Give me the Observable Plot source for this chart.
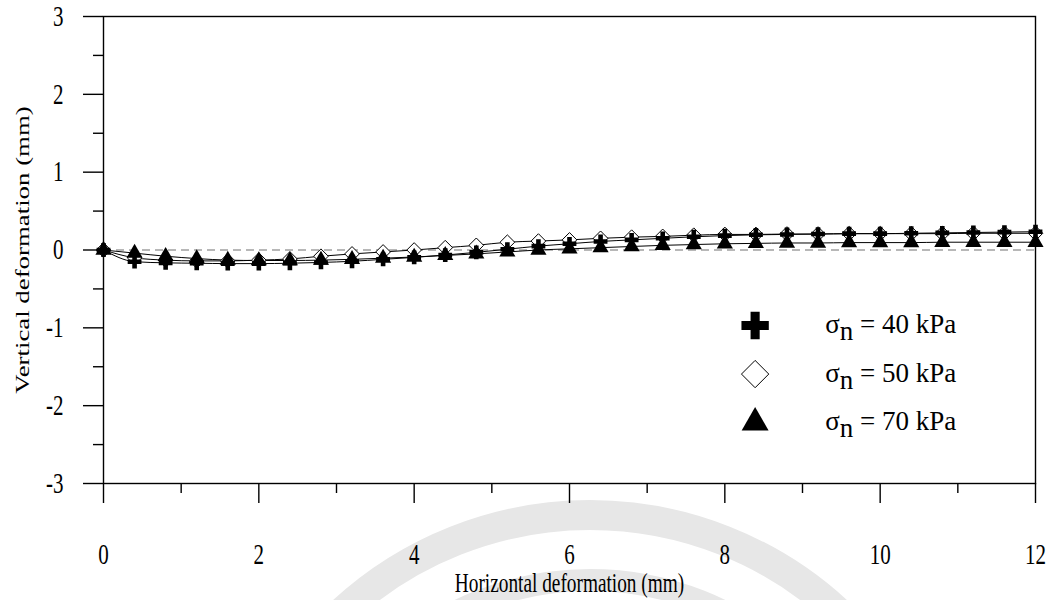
<!DOCTYPE html>
<html>
<head>
<meta charset="utf-8">
<script src="https://cdn.jsdelivr.net/npm/d3@7"></script>
<script src="https://cdn.jsdelivr.net/npm/@observablehq/plot@0.6"></script>
<style>
  html, body { margin: 0; padding: 0; background: white; }
  #chart { width: 1056px; height: 600px; }
</style>
</head>
<body>
<div id="chart"></div>
<script>
// ---- data ----
const horizontal = [0, 0.4, 0.8, 1.2, 1.6, 2.0, 2.4, 2.8, 3.2, 3.6, 4.0, 4.4, 4.8, 5.2, 5.6, 6.0,
  6.4, 6.8, 7.2, 7.6, 8.0, 8.4, 8.8, 9.2, 9.6, 10.0, 10.4, 10.8, 11.2, 11.6, 12.0];
const vert40 = [0, -0.15, -0.165, -0.17, -0.175, -0.175, -0.17, -0.16, -0.145, -0.12, -0.095, -0.065,
  -0.03, 0.01, 0.05, 0.08, 0.11, 0.13, 0.15, 0.17, 0.185, 0.195, 0.2, 0.205, 0.21, 0.21, 0.215, 0.22,
  0.225, 0.23, 0.235];
const vert50 = [0, -0.1, -0.13, -0.14, -0.14, -0.13, -0.115, -0.08, -0.05, -0.025, 0.0, 0.03, 0.06,
  0.1, 0.115, 0.13, 0.15, 0.165, 0.175, 0.19, 0.2, 0.2, 0.205, 0.205, 0.21, 0.21, 0.21, 0.21, 0.215,
  0.215, 0.215];
const vert70 = [0, -0.04, -0.08, -0.11, -0.13, -0.135, -0.135, -0.13, -0.12, -0.105, -0.09, -0.07,
  -0.05, -0.025, 0.0, 0.015, 0.03, 0.045, 0.06, 0.07, 0.08, 0.085, 0.09, 0.09, 0.095, 0.095, 0.095,
  0.1, 0.1, 0.1, 0.1];
const seriesNames = ["40", "50", "70"];
const xMajorTicks = [0, 2, 4, 6, 8, 10, 12];
const xMinorTicks = [1, 3, 5, 7, 9, 11];
const yMajorTicks = [-3, -2, -1, 0, 1, 2, 3];
const yMinorTicks = [-2.5, -1.5, -0.5, 0.5, 1.5, 2.5];
const xLabel = "Horizontal deformation (mm)";
const yLabel = "Vertical deformation (mm)";

// ---- tables built from the arrays ----
const mk = (arr) => horizontal.map((x, i) => ({ x, y: arr[i] }));
const d40 = mk(vert40), d50 = mk(vert50), d70 = mk(vert70);
const legendItems = [
  { name: seriesNames[0], symbol: "cross", fill: "black", stroke: "none", r: 11.5 },
  { name: seriesNames[1], symbol: "diamond2", fill: "white", stroke: "black", r: 12.3 },
  { name: seriesNames[2], symbol: "triangle", fill: "black", stroke: "none", r: 10 }
];
// legend placement (data units within the frame)
const legX = 8.39, legTextX = 9.3, legY0 = -0.97, legStep = 0.624;

const font = "Liberation Serif";
const STRETCH = 1.39; // the reference text is drawn tall and narrow

const plot = Plot.plot({
  width: 1056,
  height: 600,
  marginLeft: 103,
  marginRight: 21,
  marginTop: 16,
  marginBottom: 117,
  x: { domain: [0, 12] },
  y: { domain: [-3, 3] },
  style: { fontFamily: font, fontSize: "21px", color: "black", background: "transparent" },
  marks: [
    Plot.ruleY([0], { x1: 0, x2: 12, stroke: "#707070", strokeWidth: 1.2, strokeDasharray: "8,5" }),
    Plot.frame({ stroke: "black", strokeWidth: 1.4 }),
    Plot.axisX({ ticks: xMajorTicks, tickSize: 20, tickPadding: 40, tickFormat: d => String(d), label: null, strokeWidth: 1.4, fontSize: 21 }),
    Plot.axisX({ ticks: xMinorTicks, tickSize: 10, tickFormat: () => "", label: null, strokeWidth: 1.4 }),
    Plot.axisY({ ticks: yMajorTicks, tickSize: 20, tickPadding: 20, tickFormat: d => String(d), label: null, strokeWidth: 1.4, fontSize: 21 }),
    Plot.axisY({ ticks: yMinorTicks, tickSize: 10, tickFormat: () => "", label: null, strokeWidth: 1.4 }),
    Plot.text([xLabel], { frameAnchor: "bottom", lineAnchor: "middle", textAnchor: "middle", dy: 100, fontSize: 19.3 }),
    Plot.text([yLabel], { frameAnchor: "left", lineAnchor: "middle", textAnchor: "middle", dx: -81, dy: 0, rotate: -90, fontSize: 19.3 }),
    Plot.line(d50, { x: "x", y: "y", stroke: "black", strokeWidth: 1, curve: "monotone-x" }),
    Plot.line(d70, { x: "x", y: "y", stroke: "black", strokeWidth: 1, curve: "monotone-x" }),
    Plot.line(d40, { x: "x", y: "y", stroke: "black", strokeWidth: 1, curve: "monotone-x" }),
    Plot.dot(d50, { x: "x", y: "y", symbol: "diamond2", r: 6.6, fill: "white", stroke: "black", strokeWidth: 1 }),
    Plot.dot(d70, { x: "x", y: "y", symbol: "triangle", r: 6.0, fill: "black", stroke: "none" }),
    Plot.dot(d40, { x: "x", y: "y", symbol: "cross", r: 5.8, fill: "black", stroke: "none" }),
    // legend symbols
    ...legendItems.map((d, i) => Plot.dot([d], {
      x: () => legX, y: () => legY0 - i * legStep,
      symbol: d.symbol, r: d.r, fill: d.fill, stroke: d.stroke, strokeWidth: 1
    }))
  ]
});

const svg = d3.select(plot);
const xs = plot.scale("x"), ys = plot.scale("y");

// stretch axis/title text vertically (as in the reference)
svg.selectAll("text").each(function () {
  const el = d3.select(this);
  const tr = el.attr("transform") || "";
  const ax = parseFloat(el.attr("x")) || 0, ay = parseFloat(el.attr("y")) || 0;
  const s = tr.includes("rotate") ? `${STRETCH},1` : `1,${STRETCH}`;
  el.attr("transform", `${tr} translate(${ax},${ay}) scale(${s}) translate(${-ax},${-ay})`);
});

// faint watermark rings behind the chart
const wm = svg.insert("g", ":first-child").attr("fill", "none").attr("stroke", "#e7e7e7");
wm.append("circle").attr("cx", 590).attr("cy", 880).attr("r", 365).attr("stroke-width", 30);
wm.append("circle").attr("cx", 590).attr("cy", 880).attr("r", 300).attr("stroke-width", 22);
svg.insert("rect", ":first-child").attr("width", 1056).attr("height", 600).attr("fill", "white");

// legend labels with subscript
legendItems.forEach((d, i) => {
  const tx = xs.apply(legTextX), ty = ys.apply(legY0 - i * legStep) + 8;
  const t = svg.append("text")
    .attr("x", tx)
    .attr("y", ty)
    .attr("text-anchor", "start")
    .attr("font-family", font)
    .attr("font-size", 27)
    .attr("fill", "black")
    .attr("transform", `translate(${tx},${ty}) scale(1,1.05) translate(${-tx},${-ty})`);
  t.append("tspan").text("σ");
  t.append("tspan").attr("dy", 7).text("n");
  t.append("tspan").attr("dy", -7).text(" = " + d.name + " kPa");
});

document.getElementById("chart").appendChild(plot);
</script>
</body>
</html>
